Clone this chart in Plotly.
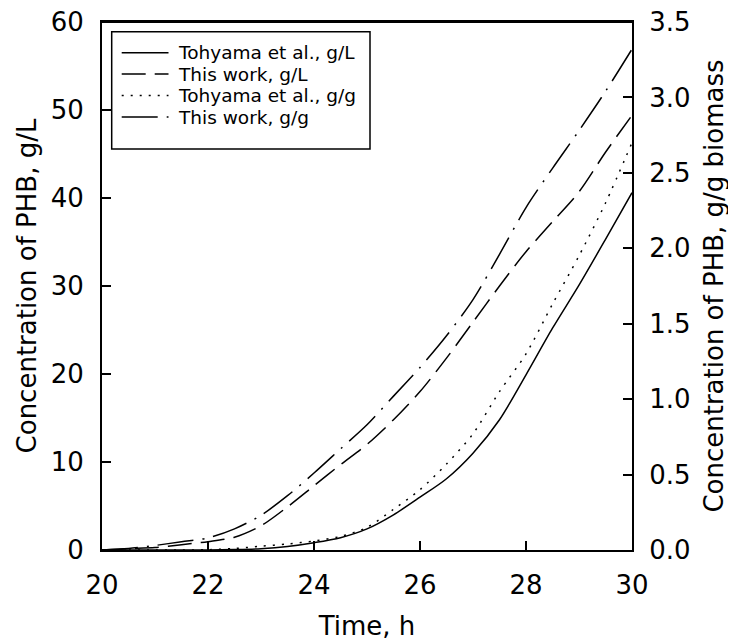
import plotly.graph_objects as go

# ---- data ----
time_h = [20, 20.5, 21, 21.5, 22, 22.5, 23, 23.5, 24, 24.5, 25, 25.5, 26, 26.5,
          27, 27.5, 28, 28.5, 29, 29.5, 30]
tohyama_gL = [0, 0, 0, 0, 0, 0.05, 0.15, 0.4, 0.83, 1.4, 2.4, 4.0, 6.0, 8.1,
              11.0, 14.8, 19.9, 25.2, 30.1, 35.3, 40.6]
thiswork_gL = [0, 0.15, 0.28, 0.6, 0.95, 1.45, 2.75, 4.9, 7.3, 9.7, 12.0, 14.8, 18.0, 21.8,
               25.9, 30.0, 33.9, 37.3, 40.7, 45.2, 49.4]
tohyama_gg = [0, 0, 0, 0, 0.002, 0.01, 0.025, 0.04, 0.06, 0.09, 0.15, 0.27, 0.40, 0.57,
              0.77, 1.05, 1.30, 1.63, 1.95, 2.30, 2.70]
thiswork_gg = [0, 0.01, 0.03, 0.055, 0.08, 0.14, 0.23, 0.36, 0.51, 0.67, 0.83, 1.02, 1.21, 1.42,
               1.66, 1.96, 2.27, 2.53, 2.78, 3.04, 3.32]

series_names = ["Tohyama et al., g/L", "This work, g/L", "Tohyama et al., g/g", "This work, g/g"]
x_ticks = [20, 22, 24, 26, 28, 30]
y_ticks = [0, 10, 20, 30, 40, 50, 60]
y2_ticks = [0.0, 0.5, 1.0, 1.5, 2.0, 2.5, 3.0, 3.5]

# ---- styling ----
FONT = "DejaVu Sans"
OFF = 8  # page body margin
W, H = 736 - OFF, 643 - OFF
ML, MT = 94, 14
PW, PH = 530, 528
MR, MB = W - ML - PW, H - MT - PH
dashes = ["solid", "24px,9px", "2px,7px", "36px,9px,2px,9px"]
LW = 1.5

fig = go.Figure()
specs = [(tohyama_gL, "y"), (thiswork_gL, "y"), (tohyama_gg, "y2"), (thiswork_gg, "y2")]
for (vals, ax), name, dsh in zip(specs, series_names, dashes):
    fig.add_trace(go.Scatter(x=time_h, y=vals, mode="lines", name=name, yaxis=ax,
                             line=dict(color="black", width=LW, dash=dsh,
                                       shape="spline", smoothing=0.8),
                             showlegend=False))


def px(xp):
    # screen pixel -> paper
    return (xp - OFF - ML) / PW


def py(yp):
    return (MT + PH - (yp - OFF)) / PH


# top frame edge
shapes = [dict(type="line", xref="paper", yref="paper", x0=0, x1=1, y0=1, y1=1,
               line=dict(color="black", width=2), layer="above")]
# manual legend (box, samples, labels)
shapes.append(dict(type="rect", xref="paper", yref="paper", x0=px(111.7), x1=px(370),
                   y0=py(149), y1=py(31.7), line=dict(color="black", width=1.5),
                   fillcolor="white", layer="above"))
annotations = []
rows = [52.7, 74.0, 95.5, 117.0]
for name, dsh, ry in zip(series_names, dashes, rows):
    shapes.append(dict(type="line", xref="paper", yref="paper", x0=px(121.7), x1=px(168.5),
                       y0=py(ry), y1=py(ry), line=dict(color="black", width=LW, dash=dsh),
                       layer="above"))
    annotations.append(dict(xref="paper", yref="paper", x=px(176), y=py(ry), text=name,
                            showarrow=False, xanchor="left", yanchor="middle",
                            font=dict(family=FONT, size=18.5, color="black")))

axis_common = dict(showgrid=False, zeroline=False, showline=True, linecolor="black",
                   linewidth=2, ticks="inside", ticklen=9, tickwidth=1.5, tickcolor="black",
                   ticklabeloverflow="allow",
                   tickfont=dict(family=FONT, size=26, color="black"))

fig.update_layout(
    width=W, height=H,
    margin=dict(l=ML, r=MR, t=MT, b=MB, autoexpand=False),
    paper_bgcolor="white", plot_bgcolor="white",
    font=dict(family=FONT, color="black"),
    showlegend=False,
    xaxis=dict(range=[20, 30], tickvals=x_ticks, mirror=True, ticklabelstandoff=11,
               title=dict(text="Time, h", font=dict(family=FONT, size=26), standoff=18),
               **axis_common),
    yaxis=dict(range=[0, 60], tickvals=y_ticks, ticklabelstandoff=11,
               title=dict(text="Concentration of PHB, g/L", font=dict(family=FONT, size=26),
                          standoff=7),
               **axis_common),
    yaxis2=dict(range=[0, 3.5], tickvals=y2_ticks, tickformat=".1f", overlaying="y",
                side="right", ticklabelstandoff=10,
                title=dict(text="Concentration of PHB, g/g biomass",
                           font=dict(family=FONT, size=26), standoff=15),
                **axis_common),
    shapes=shapes,
    annotations=annotations,
)

fig.write_html("out.html")
